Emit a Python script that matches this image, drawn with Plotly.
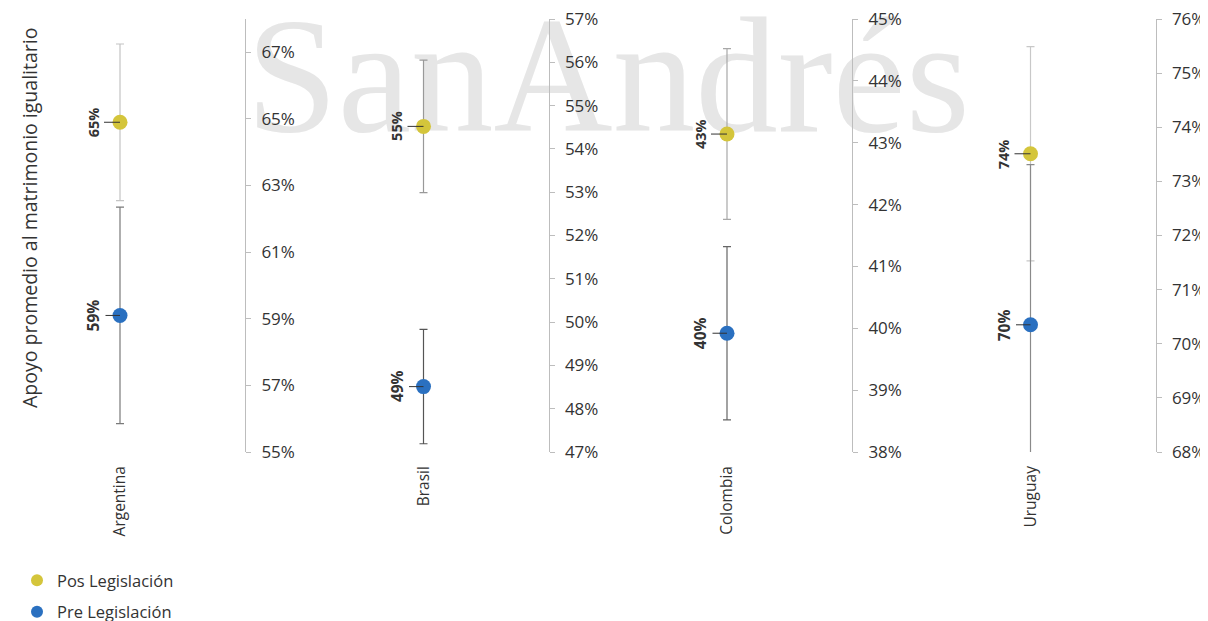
import plotly.graph_objects as go

# ---------------- data ----------------
countries = ["Argentina", "Brasil", "Colombia", "Uruguay"]
pos_vals = [64.9, 54.52, 43.14, 73.51]
pos_err = [2.35, 1.53, 1.38, 1.98]
pre_vals = [59.1, 48.51, 39.92, 70.35]
pre_err = [3.25, 1.32, 1.40, 2.96]
y_ranges = [[55, 68], [47, 57], [38, 45], [68, 76]]
y_tick0 = [55, 47, 38, 68]
y_dtick = [2, 1, 1, 1]
series_names = ["Pos Legislación", "Pre Legislación"]
y_title = "Apoyo promedio al matrimonio igualitario"
watermark_text = "SanAndrés"

# ---------------- style ----------------
OFF = 8                      # page body margin of the browser
W, H = 1208 - OFF, 621 - OFF
TOP, BOT = 19 - OFF, 452 - OFF
axis_px = [a - OFF for a in (245, 548.5, 852, 1155.5)]
panel_w = 230
point_off = 125              # distance from point to the right-hand axis
r0 = -(panel_w - point_off) / panel_w
x_range = [r0, r0 + 1]
pos_color = "#D4C53B"
pre_color = "#2A70C0"
pos_err_colors = ["#c4c4c4", "#999999", "#a8a8a8", "#c8c8c8"]
pre_err_colors = ["#7a7a7a", "#555555", "#666666", "#8a8a8a"]
FONT = "Open Sans"
TXT = "#333333"


def py(y_ref):
    """reference pixel y -> paper fraction"""
    return (BOT - (y_ref - OFF)) / (BOT - TOP)


def px(x_ref):
    return (x_ref - OFF) / W


fig = go.Figure()

# watermark (drawn first, underneath everything)
fig.add_trace(go.Scatter(
    x=[px(608)], y=[py(90)], mode="text", text=[watermark_text],
    textposition="middle center",
    textfont=dict(family="Liberation Serif", size=165, color="#e6e6e6"),
    hoverinfo="skip", showlegend=False, xaxis="x", yaxis="y", cliponaxis=False))

layout = dict(
    width=W, height=H,
    margin=dict(l=0, r=0, t=TOP, b=H - BOT, pad=0, autoexpand=False),
    paper_bgcolor="white", plot_bgcolor="rgba(0,0,0,0)",
    font=dict(family=FONT, color=TXT),
    showlegend=True,
    xaxis=dict(domain=[0, 1], range=[0, 1], visible=False, fixedrange=True),
    yaxis=dict(domain=[0, 1], range=[0, 1], visible=False, fixedrange=True),
)

annotations = []
for i, c in enumerate(countries):
    k = i + 2
    xa, ya = f"x{k}", f"y{k}"
    left = (axis_px[i] - panel_w) / W
    right = axis_px[i] / W
    layout[f"xaxis{k}"] = dict(
        domain=[left, right], type="category", range=x_range,
        anchor=ya, tickangle=-90, showline=False, showgrid=False, zeroline=False,
        ticks="", automargin=False, ticklabelstandoff=10,
        tickfont=dict(size=15.5, color=TXT, family=FONT))
    layout[f"yaxis{k}"] = dict(
        domain=[0, 1], anchor=xa, side="right", range=y_ranges[i],
        tick0=y_tick0[i], dtick=y_dtick[i], ticksuffix="%",
        showline=True, linecolor="#bdbdbd", linewidth=1,
        ticks="outside", ticklen=5, tickcolor="#bdbdbd",
        showgrid=False, zeroline=False, automargin=False, ticklabelstandoff=7,
        ticklabeloverflow="allow",
        tickfont=dict(size=17, color=TXT, family=FONT))

    fig.add_trace(go.Scatter(
        x=[c], y=[pos_vals[i]], mode="markers", name=series_names[0],
        legendgroup="pos", showlegend=(i == 0), xaxis=xa, yaxis=ya,
        marker=dict(size=15, color=pos_color),
        error_y=dict(type="data", array=[pos_err[i]], color=pos_err_colors[i],
                     thickness=1.2, width=4)))
    fig.add_trace(go.Scatter(
        x=[c], y=[pre_vals[i]], mode="markers", name=series_names[1],
        legendgroup="pre", showlegend=(i == 0), xaxis=xa, yaxis=ya,
        marker=dict(size=15, color=pre_color),
        error_y=dict(type="data", array=[pre_err[i]], color=pre_err_colors[i],
                     thickness=1.2, width=4)))

    for v, sz in ((pos_vals[i], 14.5), (pre_vals[i], 15.5)):
        annotations.append(dict(
            x=c, y=v, xref=xa, yref=ya, text=f"<b>{round(v)}%</b>",
            textangle=-90, showarrow=True, arrowhead=0, arrowwidth=1,
            arrowcolor="#333333", ax=-27, ay=0, standoff=0,
            font=dict(size=sz, color=TXT, family=FONT)))

annotations.append(dict(
    x=px(30), y=py(218), xref="paper", yref="paper",
    text=y_title, textangle=-90, showarrow=False, xanchor="center", yanchor="middle",
    font=dict(size=19.5, color=TXT, family=FONT)))

layout["annotations"] = annotations
layout["legend"] = dict(
    orientation="v", x=px(17), y=py(563), xanchor="left", yanchor="top",
    font=dict(size=16.5, color=TXT, family=FONT), tracegroupgap=7,
    bgcolor="rgba(0,0,0,0)", itemsizing="constant")

fig.update_layout(**layout)
fig.write_html("out.html")
